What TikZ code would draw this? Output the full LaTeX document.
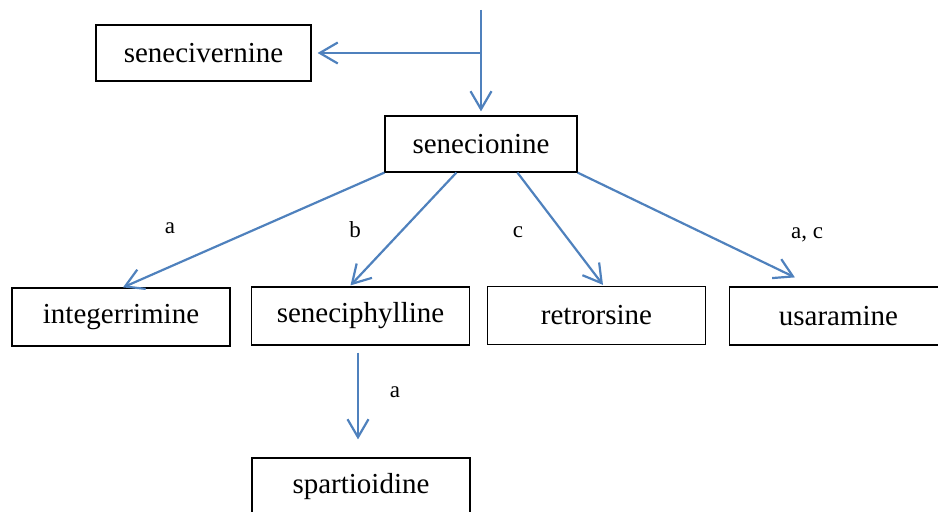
\documentclass[tikz,border=0pt]{standalone}
\usepackage{fontspec}
\setmainfont{Liberation Serif}
\usetikzlibrary{arrows.meta,calc}

\begin{document}
\begin{tikzpicture}[x=0.5pt,y=-0.5pt,
  box/.style={draw=black,line width=0.6pt,inner sep=0pt,
    minimum width=109pt,minimum height=29pt,font=\fontsize{14.5}{17}\selectfont},
  flow/.style={draw=pathblue,line width=1.1pt,
    -{Straight Barb[length=9pt,width=10.5pt,line width=1.1pt]}},
  tag/.style={font=\fontsize{11.5}{14}\selectfont,inner sep=0pt}]
\definecolor{pathblue}{RGB}{79,129,189}

\useasboundingbox (0,0) rectangle (938,512);

% compounds
\node[box,minimum width=107.5pt,minimum height=28pt] (svn) at (203.5,53) {senecivernine};
\node[box,minimum width=96pt,minimum height=28pt] (snc) at (481,144) {senecionine};
\node[box] (itg) at (121,317) {integerrimine};
\node[box] (sph) at (360.5,316) {seneciphylline};
\node[box] (rtr) at (596.5,315.5) {retrorsine};
\node[box] (usa) at (838.5,316) {usaramine};
\node[box] (spt) at (361,487) {spartioidine};

% incoming route and branch
\coordinate (src) at (481,10);
\coordinate (fork) at (481,53);
\draw[flow] (src) -- ($(snc.north)+(0,-4)$);
\draw[flow] (fork) -- ($(svn.east)+(6,0)$);

% conversions of senecionine
\draw[flow] (snc.south west) -- ($(itg.north)+(2,0)$);
\draw[flow] ($(snc.south west)+(72,0)$) -- ($(sph.north)+(-10,-1)$);
\draw[flow] ($(snc.south west)+(133,0)$) -- ($(rtr.north)+(6.5,-1)$);
\draw[flow] (snc.south east) -- ($(usa.north west)+(66,-9)$);
\draw[flow] ($(sph.south)+(-2.5,7)$) -- ($(spt.north)+(-3,-18)$);

% labels
\node[tag] (la) at (170,228) {a};
\node[tag] (lb) at (355,230) {b};
\node[tag] (lc) at (518,232) {c};
\node[tag] (lac) at (807,235) {a, c};
\node[tag] (la2) at (395,392) {a};
\end{tikzpicture}
\end{document}
